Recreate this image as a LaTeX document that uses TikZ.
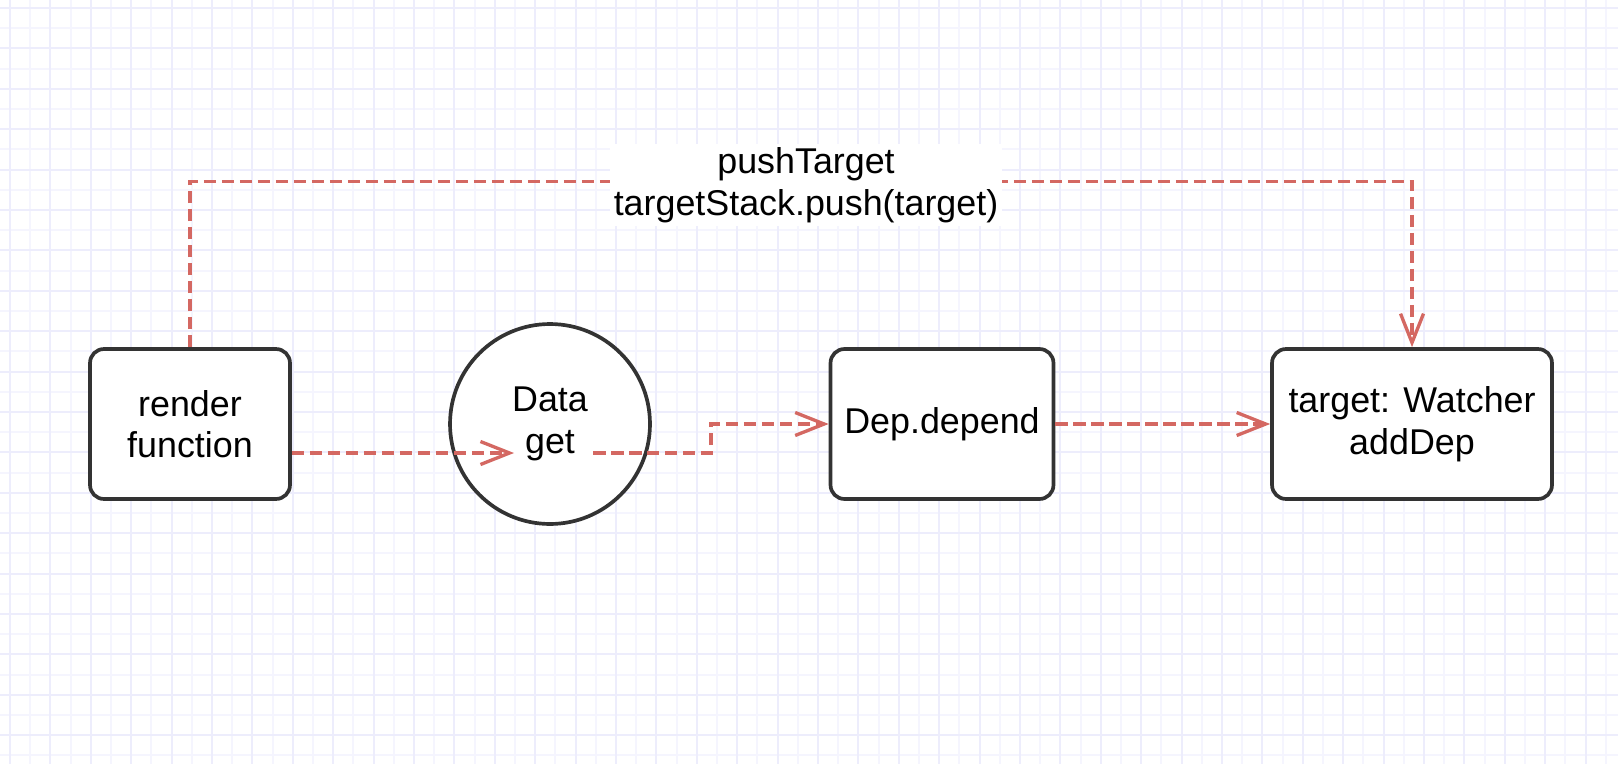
\documentclass[tikz,border=0pt]{standalone}
\usepackage{fontspec}
\setmainfont{Liberation Sans}
\usetikzlibrary{arrows.meta}
\definecolor{linkred}{RGB}{212,104,98}
\definecolor{gridminor}{RGB}{245,245,254}
\definecolor{gridmajor}{RGB}{237,237,252}
\definecolor{boxline}{RGB}{51,51,51}

\begin{document}
\begin{tikzpicture}[x=0.02cm, y=-0.02cm,
  label/.style={font=\fontsize{20.4}{23.6}\selectfont, align=center},
  box/.style={label, draw=boxline, line width=2.1pt, fill=white, rounded corners=0.28cm, minimum height=3cm},
  disc/.style={label, draw=boxline, line width=2.1pt, fill=white, circle, minimum size=4cm, inner sep=0pt},
  link/.style={draw=linkred, line width=1.9pt, dash pattern=on 0.25cm off 0.11cm, -{Straight Barb[length=0.58cm, width=0.46cm]}}]
 \useasboundingbox (0,0) rectangle (1618,764);
 \fill[white] (0,0) rectangle (1618,764);
 \foreach \i in {0,...,80} \draw[gridminor, line width=1.1pt] (10+20.2*\i,0) -- (10+20.2*\i,764);
 \foreach \i in {0,...,38} \draw[gridminor, line width=1.1pt] (0,8+20.2*\i) -- (1618,8+20.2*\i);
 \foreach \i in {0,...,40} \draw[gridmajor, line width=1.1pt] (10+40.4*\i,0) -- (10+40.4*\i,764);
 \foreach \i in {0,...,19} \draw[gridmajor, line width=1.1pt] (0,8+40.4*\i) -- (1618,8+40.4*\i);

 \node[box, minimum width=4cm] (render) at (190,424) {render\\function};
 \node[disc] (data) at (550,424) {Data\\get};
 \node[box, minimum width=4.46cm] (dep) at (942,424) {Dep.depend};
 \node[box, minimum width=5.6cm] (target) at (1412,424) {target: Watcher\\addDep};
 \coordinate (dataIn) at (514,453);
 \coordinate (dataOut) at (593,453);

 \draw[link] (render.east |- dataIn) -- (dataIn);
 \draw[link] (dataOut) -- ++(118,0) |- (dep.west);
 \draw[link] (dep) -- (target);
 \draw[link] (render.north) -- ++(0,-166) -| (target.north);
 \node[label, fill=white, inner sep=2pt] (push) at (806,185) {pushTarget\\targetStack.push(target)};
\end{tikzpicture}
\end{document}
